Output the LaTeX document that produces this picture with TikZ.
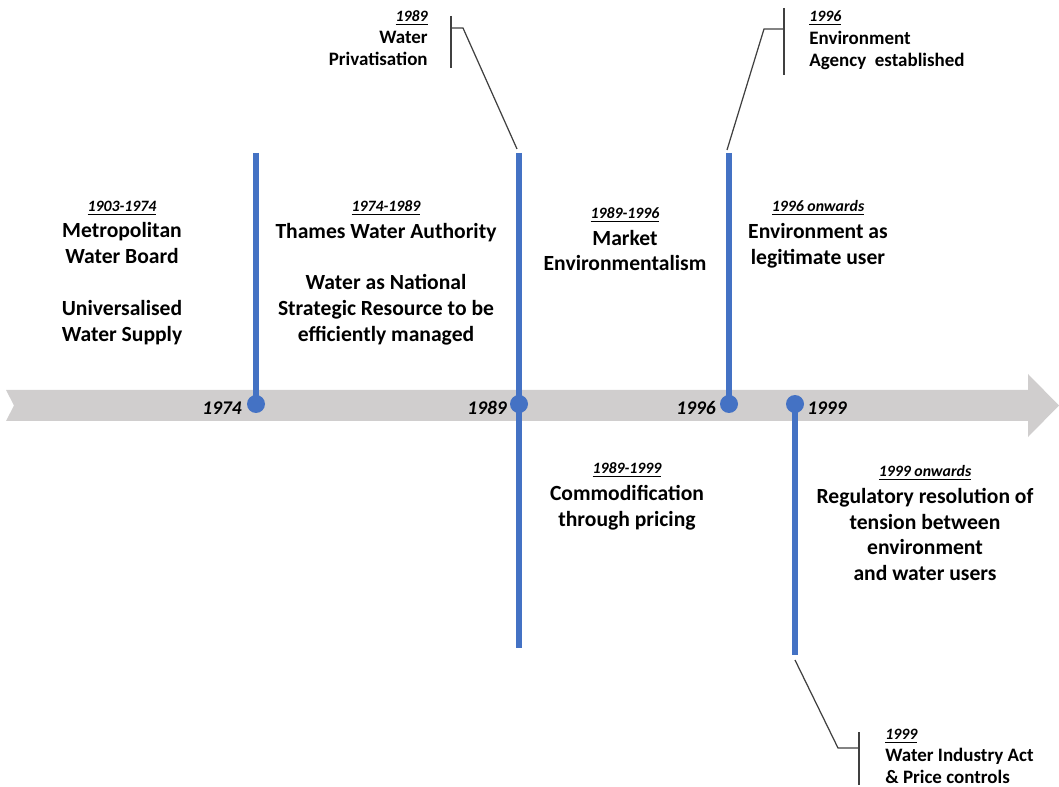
\documentclass[tikz,border=0pt]{standalone}
\usepackage{fontspec}
\setmainfont{Carlito}
\usetikzlibrary{positioning, calc}
\definecolor{cblue}{HTML}{4472C4}
\definecolor{cband}{HTML}{D0CECE}
\definecolor{cline}{HTML}{404040}
\tikzset{
  every picture/.style={x=0.02cm, y=-0.02cm},
  era/.style={font=\bfseries\fontsize{12.3}{14.7}\selectfont, align=center, inner sep=0pt},
  datelbl/.style={font=\bfseries\itshape\fontsize{9}{10}\selectfont, inner sep=0pt},
  yearlbl/.style={font=\bfseries\itshape\fontsize{11}{13}\selectfont, inner sep=0pt},
  event/.style={font=\bfseries\fontsize{10.8}{12.6}\selectfont, inner sep=0pt},
  bar/.style={draw=cblue, line width=3.2pt},
  dot/.style={circle, fill=cblue, minimum size=0.36cm, inner sep=0pt},
  leader/.style={draw=cline, line width=0.7pt},
}

\begin{document}
\begin{tikzpicture}
  \useasboundingbox (0,0) rectangle (1059,787);
  % the timeline band
  \fill[cband] (6,390) -- (1028,390) -- (1028,374) -- (1059,405.5) -- (1028,437)
    -- (1028,421) -- (6,421) -- (14,405.5) -- cycle;
  % dots on the band and the bars through them
  \node[dot] (d74) at (256,404) {};
  \node[dot] (d89) at (519,404) {};
  \node[dot] (d96) at (729,404) {};
  \node[dot] (d99) at (795,404) {};
  \coordinate (t74) at (256,153);
  \coordinate (t89) at (519,153);
  \coordinate (b89) at (519,648);
  \coordinate (t96) at (729,153);
  \coordinate (b99) at (795,655);
  \draw[bar] (t74) -- (d74.center);
  \draw[bar] (t89) -- (b89);
  \draw[bar] (t96) -- (d96.center);
  \draw[bar] (d99.center) -- (b99);
  % year labels
  \node[yearlbl, anchor=east] (y74) at (242,408) {1974};
  \node[yearlbl, anchor=east] (y89) at (507,408) {1989};
  \node[yearlbl, anchor=east] (y96) at (716,408) {1996};
  \node[yearlbl, anchor=west] (y99) at (807,408) {1999};
  % periods above the line
  \node[datelbl] (p1) at (122,208) {\underline{1903-1974}};
  \node[era, below=4pt of p1] (e1) {Metropolitan\\Water Board\\[14.7pt]Universalised\\Water Supply};
  \node[datelbl] (p2) at (386,208) {\underline{1974-1989}};
  \node[era, below=4pt of p2] (e2) {Thames Water Authority\\[14.7pt]Water as National\\Strategic Resource to be\\efficiently managed};
  \node[datelbl] (p3) at (625,215) {\underline{1989-1996}};
  \node[era, below=4pt of p3] (e3) {Market\\Environmentalism};
  \node[datelbl] (p4) at (818,208) {\underline{1996 onwards}};
  \node[era, below=4pt of p4] (e4) {Environment as\\legitimate user};
  % periods below the line
  \node[datelbl] (p5) at (627,470) {\underline{1989-1999}};
  \node[era, below=4pt of p5] (e5) {Commodification\\through pricing};
  \node[datelbl] (p6) at (925,473) {\underline{1999 onwards}};
  \node[era, below=4pt of p6] (e6) {Regulatory resolution of\\tension between\\environment\\and water users};
  % events with their brackets and leaders
  \node[datelbl, anchor=east] (q89) at (428,18) {\underline{1989}};
  \node[event, align=right, anchor=north east] (v89) at (428,31) {Water\\Privatisation};
  \coordinate (k89a) at (451,16);
  \coordinate (k89b) at (451,68);
  \coordinate (k89c) at (451,28);
  \coordinate (k89d) at (463,28);
  \coordinate (l89) at (517,149);
  \draw[leader] (k89a) -- (k89b);
  \draw[leader] (k89c) -- (k89d) -- (l89);
  \node[datelbl, anchor=west] (q96) at (809,18) {\underline{1996}};
  \node[event, align=left, anchor=north west] (v96) at (809,31) {Environment\\Agency\ \ established};
  \coordinate (k96a) at (784,8);
  \coordinate (k96b) at (784,75);
  \coordinate (k96c) at (784,29);
  \coordinate (k96d) at (764,29);
  \coordinate (l96) at (727,150);
  \draw[leader] (k96a) -- (k96b);
  \draw[leader] (k96c) -- (k96d) -- (l96);
  \node[datelbl, anchor=west] (q99) at (885,736) {\underline{1999}};
  \node[event, align=left, anchor=north west] (v99) at (885,748) {Water Industry Act\\\& Price controls};
  \coordinate (k99a) at (859,732);
  \coordinate (k99b) at (859,785);
  \coordinate (k99c) at (859,748);
  \coordinate (k99d) at (838,748);
  \coordinate (l99) at (795,660);
  \draw[leader] (k99a) -- (k99b);
  \draw[leader] (k99c) -- (k99d) -- (l99);
\end{tikzpicture}
\end{document}
